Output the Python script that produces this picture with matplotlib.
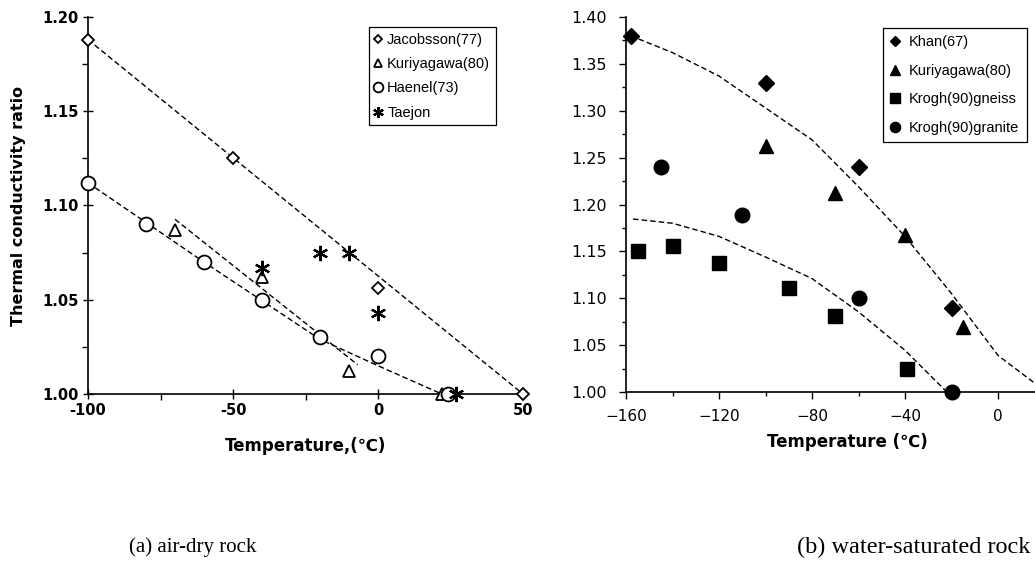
import matplotlib
matplotlib.use("Agg")
import matplotlib.pyplot as plt
from matplotlib.ticker import MultipleLocator, FuncFormatter, FixedLocator

plt.rcParams['font.family'] = ['Liberation Sans', 'DejaVu Sans']

# ---------------- (a) air-dry rock ----------------
jac_x = [-100, -50, 0, 50]
jac_y = [1.188, 1.125, 1.056, 1.000]
kur_a_x = [-70, -40, -10, 22]
kur_a_y = [1.087, 1.062, 1.012, 1.000]
hae_x = [-100, -80, -60, -40, -20, 0, 24]
hae_y = [1.112, 1.090, 1.070, 1.050, 1.030, 1.020, 1.000]
tae_x = [-40, -20, -10, 0, 27]
tae_y = [1.067, 1.075, 1.075, 1.043, 1.000]

fitJ_x = [-100, 50]
fitJ_y = [1.188, 1.000]
fitH_x = [-100, -60, -20, 0, 22]
fitH_y = [1.112, 1.070, 1.029, 1.015, 1.000]
fitK_x = [-70, -7]
fitK_y = [1.0927, 1.0155]

# ---------------- (b) water-saturated rock ----------------
khan_x = [-158, -100, -60, -20]
khan_y = [1.380, 1.330, 1.240, 1.090]
kur_b_x = [-100, -70, -40, -15]
kur_b_y = [1.262, 1.212, 1.168, 1.069]
gne_x = [-155, -140, -120, -90, -70, -39]
gne_y = [1.150, 1.156, 1.138, 1.111, 1.081, 1.025]
gra_x = [-145, -110, -60, -20]
gra_y = [1.240, 1.189, 1.100, 1.000]

fitU_x = [-158, -140, -120, -100, -80, -60, -40, -20, 0, 16]
fitU_y = [1.380, 1.362, 1.337, 1.303, 1.269, 1.219, 1.166, 1.105, 1.039, 1.009]
fitL_x = [-157, -140, -120, -100, -80, -60, -40, -22]
fitL_y = [1.1845, 1.180, 1.166, 1.144, 1.121, 1.0855, 1.0445, 1.000]

W, H = 1035, 564
fig = plt.figure(figsize=(W / 100, H / 100), dpi=100)

def px_axes(l, r, t, b):
    return fig.add_axes([l / W, 1 - b / H, (r - l) / W, (b - t) / H])

dash = dict(color='black', lw=1.0, ls=(0, (4, 2.2)))
BOLD = dict(family='DejaVu Sans', fontweight='bold')

# ---- left panel ----
ax1 = px_axes(88, 523, 17, 394)
ax1.plot(fitJ_x, fitJ_y, **dash)
ax1.plot(fitH_x, fitH_y, **dash)
ax1.plot(fitK_x, fitK_y, **dash)
ax1.plot(jac_x, jac_y, ls='none', marker='D', ms=6.5, mfc='white', mec='black', mew=1.3,
         label='Jacobsson(77)', clip_on=False, zorder=3)
ax1.plot(kur_a_x, kur_a_y, ls='none', marker='^', ms=9, mfc='white', mec='black', mew=1.3,
         label='Kuriyagawa(80)', clip_on=False, zorder=3)
ax1.plot(hae_x, hae_y, ls='none', marker='o', ms=10, mfc='white', mec='black', mew=1.3,
         label='Haenel(73)', clip_on=False, zorder=3)
ax1.plot(tae_x, tae_y, ls='none', marker=(6, 2, 0), ms=11, color='black', mew=1.6,
         label='Taejon', clip_on=False, zorder=3)
ax1.set_xlim(-100, 50)
ax1.set_ylim(1.0, 1.2)
ax1.xaxis.set_major_locator(FixedLocator([-100, -50, 0, 50]))
ax1.xaxis.set_minor_locator(MultipleLocator(25))
ax1.yaxis.set_major_locator(MultipleLocator(0.05))
ax1.yaxis.set_minor_locator(MultipleLocator(0.025))
ax1.xaxis.set_major_formatter(FuncFormatter(lambda v, p: f"{v:.0f}".replace('\u2212', '-')))
ax1.yaxis.set_major_formatter(FuncFormatter(lambda v, p: f"{v:.2f}"))
ax1.tick_params(which='major', direction='inout', length=7, width=1, labelsize=10.5, pad=3)
ax1.tick_params(which='minor', direction='out', length=4, width=1)
for lab in ax1.get_xticklabels() + ax1.get_yticklabels():
    lab.set_fontfamily('DejaVu Sans')
    lab.set_fontweight('bold')
for s in ['top', 'right']:
    ax1.spines[s].set_visible(False)
for s in ['left', 'bottom']:
    ax1.spines[s].set_linewidth(1.2)
ax1.set_xlabel('Temperature,(\u2103)', fontsize=12, labelpad=14, **BOLD)
ax1.set_ylabel('Thermal conductivity ratio', fontsize=11.5, labelpad=12, **BOLD)
leg1 = ax1.legend(loc='upper left', bbox_to_anchor=(0.646, 0.973), borderaxespad=0,
                  fontsize=10.5, handlelength=0.5, handletextpad=0.35, labelspacing=0.7,
                  borderpad=0.4, fancybox=False, framealpha=1, edgecolor='black',
                  markerscale=0.7)
leg1.get_frame().set_linewidth(0.9)

# ---- right panel ----
ax2 = px_axes(626, 1044.5, 17, 392)
ax2.plot(fitU_x, fitU_y, **dash)
ax2.plot(fitL_x, fitL_y, **dash)
ax2.plot(khan_x, khan_y, ls='none', marker='D', ms=8, color='black', label='Khan(67)',
         clip_on=False, zorder=3)
ax2.plot(kur_b_x, kur_b_y, ls='none', marker='^', ms=10, color='black', label='Kuriyagawa(80)',
         clip_on=False, zorder=3)
ax2.plot(gne_x, gne_y, ls='none', marker='s', ms=9.5, color='black', label='Krogh(90)gneiss',
         clip_on=False, zorder=3)
ax2.plot(gra_x, gra_y, ls='none', marker='o', ms=10.5, color='black', label='Krogh(90)granite',
         clip_on=False, zorder=3)
ax2.set_xlim(-160, 20)
ax2.set_ylim(1.0, 1.4)
ax2.xaxis.set_major_locator(MultipleLocator(40))
ax2.xaxis.set_minor_locator(MultipleLocator(20))
ax2.yaxis.set_major_locator(MultipleLocator(0.05))
ax2.yaxis.set_minor_locator(MultipleLocator(0.025))
ax2.xaxis.set_major_formatter(FuncFormatter(lambda v, p: f"{v:.0f}".replace('-', '\u2212')))
ax2.yaxis.set_major_formatter(FuncFormatter(lambda v, p: f"{v:.2f}"))
ax2.tick_params(axis='x', which='major', direction='out', length=5, width=1, labelsize=11, pad=7)
ax2.tick_params(axis='y', which='major', direction='out', length=5, width=1, labelsize=11.5, pad=9)
ax2.tick_params(which='minor', direction='out', length=3, width=1)
for lab in ax2.get_xticklabels() + ax2.get_yticklabels():
    lab.set_fontfamily('DejaVu Sans')
for s in ['top', 'right']:
    ax2.spines[s].set_visible(False)
for s in ['left', 'bottom']:
    ax2.spines[s].set_linewidth(1.2)
ax2.set_xlabel('Temperature (\u2103)', fontsize=12, **BOLD)
ax2.xaxis.set_label_coords((847 - 626) / 418.5, -0.11)
leg2 = ax2.legend(loc='upper left', bbox_to_anchor=(0.614, 0.971), borderaxespad=0,
                  fontsize=10.5, handlelength=0.6, handletextpad=0.7, labelspacing=1.0,
                  borderpad=0.5, fancybox=False, framealpha=1, edgecolor='black',
                  markerscale=0.7)
leg2.get_frame().set_linewidth(0.9)

# ---- captions ----
fig.text(193 / W, 1 - 547 / H, '(a) air-dry rock', fontsize=15, family='Liberation Serif',
         ha='center', va='center')
fig.text(914 / W, 1 - 547 / H, '(b) water-saturated rock', fontsize=17.5, family='Liberation Serif',
         ha='center', va='center')

fig.savefig('out.png', dpi=100)
